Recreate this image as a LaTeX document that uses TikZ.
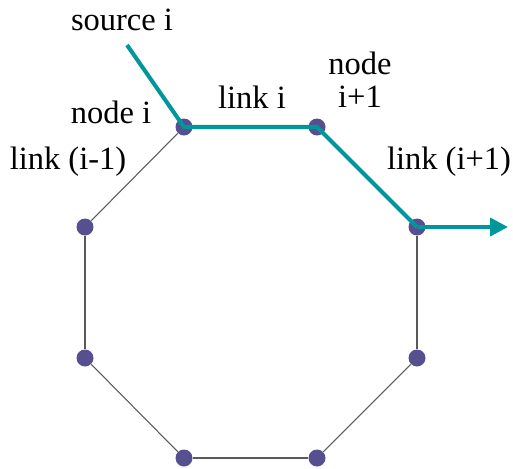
\documentclass[tikz,border=0pt]{standalone}
\usepackage{fontspec}
\setmainfont{Liberation Serif}
\usetikzlibrary{arrows.meta}

\definecolor{dotblue}{HTML}{565090}
\definecolor{teal}{HTML}{00979C}

\begin{document}
\begin{tikzpicture}[
				x=0.02cm, y=-0.02cm,
				vertex/.style={circle, fill=dotblue, inner sep=0pt, minimum size=0.34cm},
				edge/.style={gray!70!black, line width=0.6pt},
				route/.style={teal, line width=2.3pt},
				lbl/.style={font=\fontsize{18.5}{21}\selectfont, inner sep=0pt, align=center}
				]
				\useasboundingbox (0,0) rectangle (513,468);
				
				\node[vertex] (v1) at (184,127) {};
				\node[vertex] (v2) at (317,127) {};
				\node[vertex] (v3) at (417,227) {};
				\node[vertex] (v4) at (417,358) {};
				\node[vertex] (v5) at (317,458) {};
				\node[vertex] (v6) at (184,458) {};
				\node[vertex] (v7) at (85,358) {};
				\node[vertex] (v8) at (85,227) {};
				
				\foreach \a/\b in {v1/v2, v2/v3, v3/v4, v4/v5, v5/v6, v6/v7, v7/v8, v8/v1} {
					\draw[edge] (\a) -- (\b);
				}
				
				\coordinate (src) at (127,45);
				\coordinate (out) at (508,227);
				\draw[route, line join=miter] (src) -- (v1.center) -- (v2.center) -- (v3.center);
				\draw[route, -{Triangle[length=0.36cm, width=0.36cm]}] (v3.center) -- (out);
				
				\node[lbl] (srclbl) at (122,20) {source i};
				\node[lbl] (nodei) at (111,112) {node i};
				\node[lbl] (linki) at (252,97) {link i};
				\node[lbl] (nodeip) at (360,80) {node\\[-2pt]i+1};
				\node[lbl] (linkim) at (68,162) {link (i-1)};
				\node[lbl] (linkip) at (449,162) {link (i+1)};
			\end{tikzpicture}
\end{document}
